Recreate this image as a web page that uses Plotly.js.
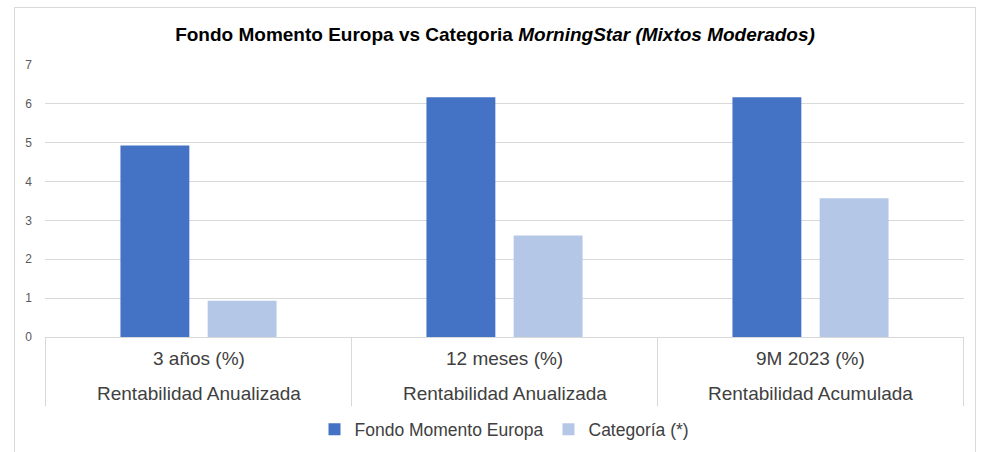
<!DOCTYPE html>
<html>
<head>
<meta charset="utf-8">
<script src="https://cdn.plot.ly/plotly-3.0.1.min.js"></script>
<style>
  html, body { margin: 0; padding: 0; background: #ffffff; }
  #frame { position: absolute; left: 14px; top: 7px; width: 960px; height: 450px; border: 1px solid #d9d9d9; }
  #chart { width: 960px; height: 450px; }
</style>
</head>
<body>
<div id="frame"><div id="chart"></div></div>
<script>
// Data
const categories = ["3 años (%)", "12 meses (%)", "9M 2023 (%)"];
const subLabels = ["Rentabilidad Anualizada", "Rentabilidad Anualizada", "Rentabilidad Acumulada"];
const seriesNames = ["Fondo Momento Europa", "Categoría (*)"];
const fondoValues = [4.93, 6.17, 6.17];
const categoriaValues = [0.93, 2.61, 3.57];
const yTicks = [0, 1, 2, 3, 4, 5, 6, 7];

const traces = [
  { type: "bar", name: seriesNames[0], x: categories, y: fondoValues, marker: { color: "#4472C4" }, hoverinfo: "x+y+name" },
  { type: "bar", name: seriesNames[1], x: categories, y: categoriaValues, marker: { color: "#B4C7E7" }, hoverinfo: "x+y+name" }
];

const labelFont = { family: "Liberation Sans, Arial, sans-serif", size: 19, color: "#404040" };
const annotations = [];
categories.forEach((c, i) => {
  annotations.push({ x: c, xref: "x", y: -0.078, yref: "paper", text: c, showarrow: false, yanchor: "middle", xanchor: "center", font: labelFont });
  annotations.push({ x: c, xref: "x", y: -0.207, yref: "paper", text: subLabels[i], showarrow: false, yanchor: "middle", xanchor: "center", font: labelFont });
});

const shapes = [];
for (let i = 0; i <= categories.length; i++) {
  shapes.push({ type: "line", xref: "x", yref: "paper", x0: i - 0.5, x1: i - 0.5, y0: 0, y1: -0.255, line: { color: "#d9d9d9", width: 1 } });
}

const layout = {
  width: 960, height: 450,
  paper_bgcolor: "#ffffff", plot_bgcolor: "#ffffff",
  margin: { l: 30, r: 11, t: 57, b: 115 },
  title: {
    text: "<b>Fondo Momento Europa vs Categoria <i>MorningStar (Mixtos Moderados)</i></b>",
    font: { family: "Liberation Sans, Arial, sans-serif", size: 19, color: "#000000" },
    x: 0.5, xanchor: "center", xref: "container",
    y: 1 - 26 / 450, yanchor: "middle", yref: "container"
  },
  barmode: "group",
  bargap: 0.43,
  bargroupgap: 0.21,
  xaxis: {
    type: "category",
    showticklabels: false,
    showgrid: false,
    showline: true, linecolor: "#d9d9d9", linewidth: 1,
    ticks: "",
    zeroline: false,
    fixedrange: true
  },
  yaxis: {
    range: [0, 7],
    tickvals: yTicks,
    ticktext: yTicks.map(String),
    showgrid: true, gridcolor: "#d9d9d9", gridwidth: 1,
    zeroline: false,
    showline: false,
    ticks: "",
    ticklabelstandoff: 12,
    tickfont: { family: "Liberation Sans, Arial, sans-serif", size: 12, color: "#595959" },
    fixedrange: true
  },
  showlegend: true,
  legend: {
    orientation: "h",
    x: 0.5, xanchor: "center",
    y: -0.34, yanchor: "middle",
    font: { family: "Liberation Sans, Arial, sans-serif", size: 17.5, color: "#404040" },
    itemwidth: 30,
    traceorder: "normal"
  },
  annotations: annotations,
  shapes: shapes
};

Plotly.newPlot("chart", traces, layout, { displayModeBar: false, staticPlot: false });
</script>
</body>
</html>
